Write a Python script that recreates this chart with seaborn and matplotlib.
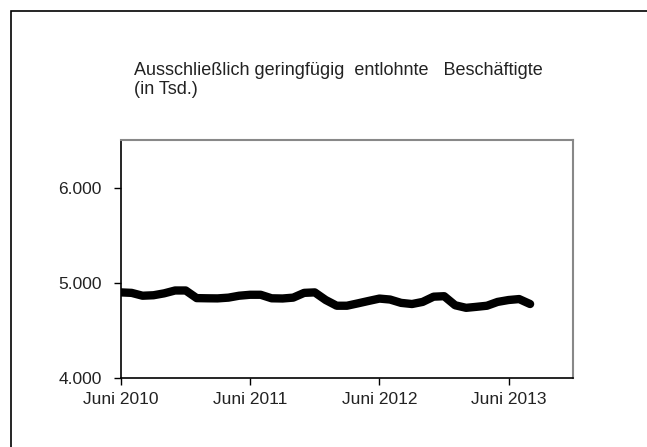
import pandas as pd
import matplotlib
matplotlib.use("Agg")
import matplotlib.pyplot as plt
import matplotlib.patches as mpatches
import seaborn as sns

# monthly values, Juni 2010 .. August 2013 (in Tsd.)
months = pd.date_range("2010-06-01", "2013-08-01", freq="MS")
values = [4900, 4895, 4865, 4870, 4890, 4920, 4920, 4840, 4838, 4837,
          4845, 4865, 4875, 4875, 4838, 4836, 4845, 4895, 4900, 4820,
          4760, 4760, 4785, 4810, 4835, 4825, 4790, 4778, 4800, 4855,
          4860, 4765, 4738, 4748, 4760, 4800, 4820, 4830, 4778]
tick_dates = pd.to_datetime(["2010-06-01", "2011-06-01", "2012-06-01", "2013-06-01"])
tick_labels = ["Juni 2010", "Juni 2011", "Juni 2012", "Juni 2013"]
y_ticks = [4000, 5000, 6000]
y_labels = ["4.000", "5.000", "6.000"]

df = pd.DataFrame({"monat": months, "wert": values})

sns.set_theme(style="white")
plt.rcParams["font.family"] = ["Liberation Sans", "DejaVu Sans"]

fig = plt.figure(figsize=(6.47, 4.47), dpi=100)
ax = fig.add_axes([0.187, 0.154, 0.699, 0.533])

sns.lineplot(data=df, x="monat", y="wert", ax=ax, color="black", linewidth=6,
             solid_capstyle="round", solid_joinstyle="round")

ax.set_xlim(pd.Timestamp("2010-06-01"), pd.Timestamp("2013-12-01"))
ax.set_ylim(4000, 6500)
ax.set_xticks(tick_dates)
ax.set_xticklabels(tick_labels)
ax.set_yticks(y_ticks)
ax.set_yticklabels(y_labels)
ax.set_xlabel("")
ax.set_ylabel("")
ax.tick_params(axis="both", which="major", direction="out", length=5, width=1,
               color="black", labelsize=12.5, labelcolor="#222222",
               bottom=True, left=True)
ax.tick_params(axis="x", pad=5)
ax.tick_params(axis="y", pad=9)

for side in ["left", "bottom"]:
    ax.spines[side].set_color("black")
    ax.spines[side].set_linewidth(1.2)
for side in ["top", "right"]:
    ax.spines[side].set_color("#888888")
    ax.spines[side].set_linewidth(1.5)

fig.text(134 / 647, 1 - 62 / 447,
         "Ausschließlich geringfügig  entlohnte   Beschäftigte\n(in Tsd.)",
         fontsize=13, va="top", ha="left", linespacing=1.15, color="#222222")

# outer frame
fig.patches.append(mpatches.Rectangle((11 / 647, -0.2), 1.2, 1.2 - 11 / 447,
                                      transform=fig.transFigure, fill=False,
                                      edgecolor="black", linewidth=1.2))

fig.savefig("out.png", dpi=100)
